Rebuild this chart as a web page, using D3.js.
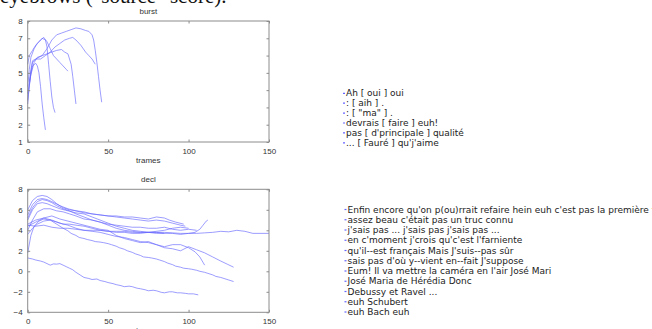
<!DOCTYPE html>
<html>
<head>
<meta charset="utf-8">
<script src="https://cdn.jsdelivr.net/npm/d3@7/dist/d3.min.js"></script>
<style>
  html, body { margin: 0; padding: 0; background: #fff; }
  svg { display: block; }
  text { font-family: "Liberation Sans", Arial, sans-serif; }
</style>
</head>
<body>
<svg id="fig" width="652" height="329"></svg>
<script>
// Pitch contours per utterance (frame index, value)
const burstLabels = [
  "Ah [ oui ] oui",
  ": [ aih ] .",
  ": [ \"ma\" ] .",
  "devrais [ faire ] euh!",
  "pas [ d'principale ] qualité",
  "... [ Fauré ] qu'j'aime"
];
const burstSeries = [
  [[0,3.4],[1,4.2],[2,5.0],[3,5.6],[5,5.8],[7,5.9],[9,6.0],[12,6.4],[15,6.9],[18,7.2],[21,7.3],[24,7.4],[27,7.5],[30,7.6],[33,7.55],[36,7.45],[38,7.4],[40,7.2],[41,6.9],[42,6.3],[43,5.6],[44,4.8],[45,4.0],[46,3.3]],
  [[1,4.5],[2,5.2],[3,5.7],[5,5.8],[8,5.8],[11,6.0],[14,6.2],[17,6.5],[20,6.7],[23,6.9],[26,7.0],[28,7.05],[30,6.9],[33,6.6],[36,6.2],[38,6.0],[40,5.8],[42,5.5]],
  [[0,3.8],[2,4.9],[4,5.6],[6,5.9],[9,6.0],[12,6.1],[15,6.2],[18,6.3],[21,6.35],[23,6.2],[25,6.1],[27,5.5],[28,4.8],[29,4.0],[30,3.2]],
  [[0,4.2],[1,5.2],[2,5.9],[4,6.4],[6,6.7],[8,6.9],[10,7.05],[12,6.8],[14,6.4],[16,6.0],[18,5.8],[20,5.6],[22,5.4],[24,5.2],[25,5.1]],
  [[0,5.5],[1,6.0],[3,6.3],[5,6.6],[7,6.8],[9,7.0],[11,6.9],[12,6.5],[13,5.5],[14,4.5],[15,3.6],[16,3.0],[17,2.7]],
  [[0,3.2],[1,4.3],[2,5.0],[3,5.4],[5,5.55],[6,5.4],[7,5.0],[8,4.2],[9,3.2],[10,2.4],[11,1.7]]
];

const declLabels = [
  "Enfin encore qu'on p(ou)rrait refaire hein euh c'est pas la première fois",
  "assez beau c'était pas un truc connu",
  "j'sais pas ... j'sais pas j'sais pas ...",
  "en c'moment j'crois qu'c'est l'farniente",
  "qu'il--est français Mais J'suis--pas sûr",
  "sais pas d'où y--vient en--fait J'suppose",
  "Eum! Il va mettre la caméra en l'air José Mari",
  "José Maria de Hérédia Donc",
  "Debussy et Ravel ...",
  "euh Schubert",
  "euh Bach euh"
];
const declSeries = [
  [[0,1.3],[3,1.2],[5,1.1],[8,1.0],[10,0.9],[12,0.75],[14,0.6],[16,0.72],[18,0.7],[20,0.75],[22,0.6],[24,0.45],[26,0.3],[28,0.15],[30,-0.1],[33,-0.4],[35,-0.6],[38,-0.7],[40,-0.8],[43,-0.75],[45,-0.9],[48,-1.0],[50,-1.1],[53,-1.2],[55,-1.3],[58,-1.4],[60,-1.5],[63,-1.45],[65,-1.5],[68,-1.65],[70,-1.7],[73,-1.8],[75,-1.9],[78,-1.85],[80,-1.9],[83,-2.05],[85,-2.1],[88,-2.0],[90,-2.0],[93,-2.1],[95,-2.1],[98,-2.15],[100,-2.2],[103,-2.2],[106,-2.3]],
  [[0,1.8],[2,3.5],[4,4.4],[7,4.9],[10,5.1],[14,5.0],[18,4.6],[22,4.2],[25,3.95],[27,3.7],[30,3.5],[32,3.3],[35,3.2],[37,3.1],[40,3.0],[42,2.9],[45,2.85],[47,2.8],[50,2.7],[52,2.6],[55,2.45],[57,2.3],[60,2.15],[62,2.0],[65,1.85],[67,1.7],[70,1.55],[72,1.4],[75,1.35],[77,1.3],[80,1.2],[82,1.1],[85,0.95],[87,0.8],[90,0.65],[92,0.5],[95,0.4],[97,0.3],[100,0.25],[102,0.2],[105,0.1],[107,0.0],[110,-0.1],[112,-0.2],[115,-0.35],[117,-0.5],[120,-0.6],[122,-0.7],[125,-0.85],[128,-1.0]],
  [[0,4.6],[5,5.0],[10,5.2],[15,5.0],[20,4.7],[25,4.5],[30,4.2],[35,4.0],[40,3.9],[45,3.8],[50,3.6],[55,3.4],[60,3.3],[65,3.1],[70,2.9],[75,2.8],[80,2.6],[85,2.3],[90,2.2],[95,2.0],[100,2.4],[105,2.1],[110,1.8],[115,1.4],[120,1.0],[124,0.7],[128,0.4]],
  [[0,4.4],[5,4.8],[10,5.2],[15,5.4],[20,5.1],[25,4.9],[30,4.7],[35,4.5],[40,4.3],[45,4.1],[50,4.0],[55,3.5],[60,3.2],[65,3.0],[70,2.8],[75,2.9],[80,2.6],[85,2.4],[90,2.6],[95,2.6],[100,2.3],[104,1.9],[107,1.4],[110,0.6]],
  [[0,4.5],[5,4.4],[10,4.5],[15,4.3],[20,4.2],[25,4.2],[30,4.1],[35,4.0],[40,4.0],[45,4.0],[50,3.9],[55,3.9],[60,3.9],[65,3.8],[70,3.8],[75,3.8],[80,3.8],[85,3.8],[90,3.75],[95,3.7],[100,3.7],[105,3.7],[110,3.75],[115,3.8],[120,3.9],[125,3.85],[130,4.0],[135,3.9],[140,3.7],[145,3.7],[150,3.7]],
  [[0,5.2],[3,6.2],[6,6.8],[9,7.0],[12,6.9],[15,6.7],[18,6.4],[22,6.1],[26,5.9],[30,5.6],[35,5.3],[40,5.0],[45,4.8],[50,4.5],[55,4.2],[60,4.0],[65,3.9],[70,3.8],[75,3.8],[80,3.8],[85,3.7],[90,3.7],[95,3.6],[100,3.7],[104,3.8],[107,4.1],[109,4.5],[111,4.9],[112,5.0]],
  [[0,6.0],[3,6.9],[6,7.3],[9,7.4],[12,7.3],[15,7.0],[18,6.6],[22,6.2],[26,6.0],[30,5.9],[35,5.7],[40,5.6],[45,5.5],[50,5.4],[55,5.3],[60,5.2],[65,5.1],[70,5.0],[75,4.9],[80,5.0],[85,4.9],[90,4.7],[95,4.5],[98,4.4]],
  [[0,5.5],[3,6.5],[6,7.0],[9,7.1],[12,7.0],[15,6.8],[20,6.4],[25,6.1],[30,5.9],[35,5.8],[40,5.6],[45,5.5],[50,5.4],[55,5.4],[60,5.3],[65,5.3],[70,5.2],[75,5.1],[80,5.3],[85,5.2],[88,5.0],[92,4.8],[97,4.6]],
  [[0,4.0],[3,5.0],[6,5.8],[10,6.1],[14,6.1],[18,5.9],[22,5.8],[26,5.6],[30,5.4],[35,5.1],[40,5.0],[45,4.8],[50,4.6],[55,4.5],[60,4.4],[65,4.3],[70,4.3],[75,4.2],[80,4.2],[85,4.3],[90,4.1],[95,4.0],[100,4.1],[105,4.0]],
  [[0,5.0],[3,6.0],[6,6.6],[9,6.7],[12,6.6],[15,6.4],[20,6.1],[25,5.9],[30,5.7],[35,5.6],[40,5.3],[45,5.0],[50,4.7],[55,4.4],[60,4.2],[65,4.0],[70,3.9],[75,3.8],[80,3.9],[85,4.0],[90,4.2],[95,4.3],[100,4.2]],
  [[0,3.6],[3,4.2],[6,4.6],[10,4.9],[14,5.0],[18,4.8],[22,4.6],[26,4.6],[30,4.5],[35,4.4],[40,4.2],[45,4.0],[50,3.9],[55,3.8],[60,3.8],[65,3.7],[70,3.7],[75,3.8],[80,3.7],[85,3.7]]
];

const xTicks = [0, 50, 100, 150];
const burstYTicks = [1, 2, 3, 4, 5, 6, 7, 8];
const declYTicks = [-4, -2, 0, 2, 4, 6, 8];

const svg = d3.select("#fig");
const lineColor = "#6464ff";
const axisColor = "#8c8c8c";

// caption line running off the top edge
svg.append("text")
  .attr("x", 0).attr("y", 3)
  .style("font-family", "'Liberation Serif', 'Times New Roman', serif")
  .style("font-size", "21px")
  .attr("fill", "#111")
  .text("eyebrows (\"source\" score).");

function panel(cfg) {
  const x = d3.scaleLinear().domain([0, 150]).range([27.7, 269]);
  const y = d3.scaleLinear().domain(cfg.yDomain).range([cfg.bottom, cfg.top]);
  const g = svg.append("g");

  const line = d3.line().x(d => x(d[0])).y(d => y(d[1]));
  g.selectAll("path.contour").data(cfg.series).join("path")
    .attr("class", "contour")
    .attr("d", line)
    .attr("fill", "none")
    .attr("stroke", lineColor)
    .attr("stroke-opacity", 0.75)
    .attr("stroke-width", 0.85)
    .attr("stroke-linejoin", "round");

  const styleAxis = sel => {
    sel.select(".domain").remove();
    sel.selectAll(".tick line").attr("stroke", axisColor);
    sel.selectAll(".tick text").attr("fill", "#333").style("font-size", "8px");
  };

  g.append("g").attr("transform", `translate(0,${cfg.bottom})`)
    .call(d3.axisBottom(x).tickValues(xTicks).tickSize(-2.5).tickPadding(6).tickFormat(d3.format("d")))
    .call(styleAxis);
  g.append("g").attr("transform", `translate(0,${cfg.top})`)
    .call(d3.axisTop(x).tickValues(xTicks).tickSize(-2.5).tickFormat(""))
    .call(styleAxis);
  g.append("g").attr("transform", `translate(${x(0)},0)`)
    .call(d3.axisLeft(y).tickValues(cfg.yTicks).tickSize(-2.5).tickPadding(5).tickFormat(d3.format("d")))
    .call(styleAxis);
  g.append("g").attr("transform", `translate(${x(150)},0)`)
    .call(d3.axisRight(y).tickValues(cfg.yTicks).tickSize(-2.5).tickFormat(""))
    .call(styleAxis);

  g.append("rect")
    .attr("x", x(0)).attr("y", cfg.top)
    .attr("width", x(150) - x(0)).attr("height", cfg.bottom - cfg.top)
    .attr("fill", "none").attr("stroke", axisColor).attr("stroke-width", 1);

  g.append("text").attr("x", (x(0) + x(150)) / 2).attr("y", cfg.top - 7)
    .attr("text-anchor", "middle").attr("fill", "#333").style("font-size", "8px")
    .text(cfg.title);
  g.append("text").attr("x", (x(0) + x(150)) / 2).attr("y", cfg.bottom + 21)
    .attr("text-anchor", "middle").attr("fill", "#333").style("font-size", "8px")
    .text("trames");

  // legend
  const lg = svg.append("g");
  cfg.labels.forEach((t, i) => {
    const yy = cfg.legendY + i * cfg.legendStep;
    lg.append("line")
      .attr("x1", cfg.legendX - 3).attr("x2", cfg.legendX - 1)
      .attr("y1", yy).attr("y2", yy)
      .attr("stroke", lineColor).attr("stroke-width", 1.2);
    lg.append("text")
      .attr("x", cfg.legendX).attr("y", yy).attr("dy", "0.35em")
      .attr("fill", "#222")
      .style("font-family", "'DejaVu Sans', sans-serif")
      .style("font-size", "9px")
      .text(t);
  });
}

panel({
  title: "burst", top: 21, bottom: 142, yDomain: [1, 8], yTicks: burstYTicks,
  series: burstSeries, labels: burstLabels,
  legendX: 346, legendY: 93.3, legendStep: 9.9
});
panel({
  title: "decl", top: 189.3, bottom: 312.3, yDomain: [-4, 8], yTicks: declYTicks,
  series: declSeries, labels: declLabels,
  legendX: 347.5, legendY: 209.5, legendStep: 10.25
});
</script>
</body>
</html>
